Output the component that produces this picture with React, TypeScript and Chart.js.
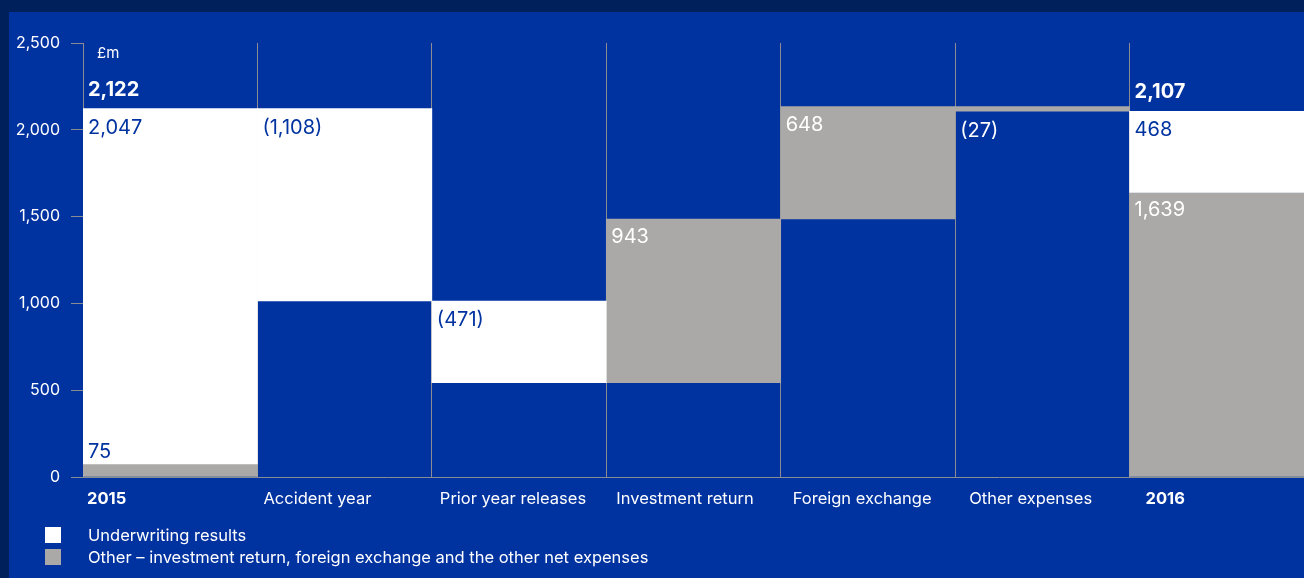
import { useEffect, useRef } from 'react';
import { Chart, registerables } from 'chart.js';

Chart.register(...registerables);

// ---- data ----
const categories = ['2015', 'Accident year', 'Prior year releases', 'Investment return', 'Foreign exchange', 'Other expenses', '2016'];
const boldCategories = ['2015', '2016'];
const underwritingStart = [75, 1014, 543, null, null, null, 1639];
const underwritingEnd = [2122, 2122, 1014, null, null, null, 2107];
const otherStart = [0, null, null, 543, 1486, 2107, 0];
const otherEnd = [75, null, null, 1486, 2134, 2134, 1639];
const underwritingLabels = ['2,047', '(1,108)', '(471)', '', '', '', '468'];
const otherLabels = ['75', '', '', '943', '648', '(27)', '1,639'];
const totalLabels = ['2,122', '', '', '', '', '', '2,107'];
const yTicks = [0, 500, 1000, 1500, 2000, 2500];
const unitLabel = '£m';
const legendLabels = ['Underwriting results', 'Other – investment return, foreign exchange and the other net expenses'];

// ---- styles ----
const NAVY = '#00205c';
const BLUE = '#0033a0';
const WHITE = '#ffffff';
const GREY = '#aaa9a7';
const LINE = '#8a8c94';
const FONT = 'Inter, "Liberation Sans", Arial, sans-serif';

const toRange = (s: (number | null)[], e: (number | null)[]) =>
  s.map((v, i) => (v == null || e[i] == null ? null : [v, e[i] as number]));

const decor = {
  id: 'decor',
  beforeDraw(chart: any) {
    const { ctx, width, height } = chart;
    ctx.save();
    ctx.fillStyle = NAVY;
    ctx.fillRect(0, 0, width, height);
    ctx.fillStyle = BLUE;
    ctx.fillRect(9, 12, width - 9, height - 12);
    ctx.restore();
  },
  afterDraw(chart: any) {
    const { ctx, chartArea } = chart;
    const uMeta = chart.getDatasetMeta(0);
    const oMeta = chart.getDatasetMeta(1);
    ctx.save();
    ctx.textAlign = 'left';
    ctx.textBaseline = 'middle';

    // unit label
    ctx.fillStyle = WHITE;
    ctx.font = `15px ${FONT}`;
    ctx.fillText(unitLabel, chartArea.left + 14, chartArea.top + 10);

    categories.forEach((cat, i) => {
      const uEl = uMeta.data[i];
      const oEl = oMeta.data[i];
      const ref = uEl && underwritingStart[i] != null ? uEl : oEl;
      const colLeft = ref.x - ref.width / 2;
      const left = colLeft + 5;
      let stackTop = Infinity;

      ctx.font = `20px ${FONT}`;
      if (underwritingStart[i] != null && uEl) {
        const top = Math.min(uEl.y, uEl.base);
        stackTop = Math.min(stackTop, top);
        if (underwritingLabels[i]) {
          ctx.fillStyle = BLUE;
          ctx.fillText(underwritingLabels[i], left, top + 19);
        }
      }
      if (otherStart[i] != null && oEl) {
        const top = Math.min(oEl.y, oEl.base);
        const bottom = Math.max(oEl.y, oEl.base);
        stackTop = Math.min(stackTop, top);
        if (otherLabels[i]) {
          if (bottom - top < 30) {
            if (underwritingStart[i] != null) {
              ctx.fillStyle = BLUE;
              ctx.fillText(otherLabels[i], left, top - 12);
            } else {
              ctx.fillStyle = WHITE;
              ctx.fillText(otherLabels[i], left, bottom + 20);
            }
          } else {
            ctx.fillStyle = WHITE;
            ctx.fillText(otherLabels[i], left, top + 18);
          }
        }
      }
      if (totalLabels[i]) {
        ctx.fillStyle = WHITE;
        ctx.font = `bold 20px ${FONT}`;
        ctx.fillText(totalLabels[i], left, stackTop - 19);
      }

      // category labels
      ctx.fillStyle = WHITE;
      ctx.font = `${boldCategories.includes(cat) ? 'bold ' : ''}16.5px ${FONT}`;
      ctx.fillText(cat, colLeft + 4 + i * 2, chartArea.bottom + 22);
    });

    // legend
    const legendColors = [WHITE, GREY];
    legendLabels.forEach((lbl, i) => {
      const y = 527 + i * 22;
      ctx.fillStyle = legendColors[i];
      ctx.fillRect(45, y, 16, 16);
      ctx.fillStyle = WHITE;
      ctx.font = `16.5px ${FONT}`;
      ctx.fillText(lbl, 88, y + 9);
    });
    ctx.restore();
  },
};

export default function App() {
  const ref = useRef<HTMLCanvasElement | null>(null);
  useEffect(() => {
    if (!ref.current) return;
    const chart = new Chart(ref.current, {
      type: 'bar',
      data: {
        labels: categories,
        datasets: [
          {
            label: legendLabels[0],
            data: toRange(underwritingStart, underwritingEnd) as any,
            backgroundColor: WHITE,
            borderWidth: 0,
            categoryPercentage: 1,
            barPercentage: 1,
          },
          {
            label: legendLabels[1],
            data: toRange(otherStart, otherEnd) as any,
            backgroundColor: GREY,
            borderWidth: 0,
            categoryPercentage: 1,
            barPercentage: 1,
          },
        ],
      },
      options: {
        animation: false,
        responsive: false,
        layout: { padding: { top: 43, left: 0, right: 0, bottom: 0 } },
        plugins: { legend: { display: false }, tooltip: { enabled: false } },
        scales: {
          x: {
            stacked: true,
            z: 1,
            offset: true,
            grid: { color: LINE, lineWidth: 1, drawTicks: false, offset: true },
            border: { display: true, color: LINE },
            ticks: { display: false },
            afterFit: (s: any) => { s.height = 101; },
          },
          y: {
            stacked: false,
            min: 0,
            max: 2500,
            afterBuildTicks: (s: any) => { s.ticks = yTicks.map((v) => ({ value: v })); },
            grid: { drawOnChartArea: false, drawTicks: true, tickLength: 12, color: LINE },
            border: { display: true, color: LINE },
            ticks: {
              color: WHITE,
              padding: 11,
              font: { family: FONT, size: 16 },
              callback: (v: any) => Number(v).toLocaleString('en-US'),
            },
            afterFit: (s: any) => { s.width = 83; },
          },
        },
      },
      plugins: [decor],
    });
    return () => chart.destroy();
  }, []);
  return (
    <div style={{ position: 'fixed', left: 0, top: 0, width: 1304, height: 578 }}>
      <canvas ref={ref} width={1304} height={578} style={{ display: 'block' }} />
    </div>
  );
}
